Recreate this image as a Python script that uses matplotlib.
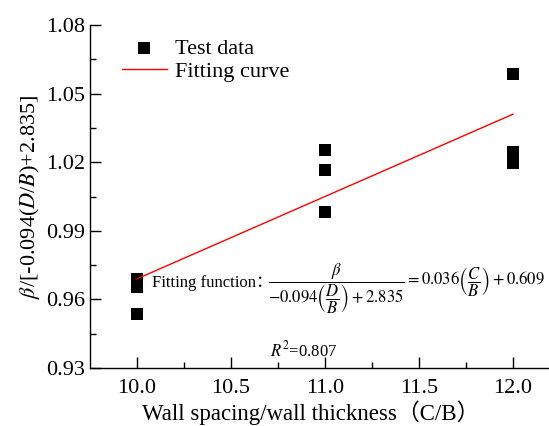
import matplotlib
matplotlib.use("Agg")
import matplotlib.pyplot as plt
import numpy as np

plt.rcParams['font.family'] = ['Liberation Serif', 'Noto Sans CJK SC']
plt.rcParams['mathtext.fontset'] = 'stix'

# Test data
ratio_cb = [10.0, 10.0, 10.0, 11.0, 11.0, 11.0, 12.0, 12.0, 12.0, 12.0]
beta_norm = [0.9691, 0.9656, 0.9538, 1.0253, 1.0168, 0.9984, 1.0586, 1.0244, 1.0220, 1.0196]

# Linear fit coefficients
slope = 0.036
intercept = 0.609
fit_x = [10.0, 12.0]

x_ticks = [10.0, 10.5, 11.0, 11.5, 12.0]
y_ticks = [0.93, 0.96, 0.99, 1.02, 1.05, 1.08]

W, H = 549, 426
fig = plt.figure(figsize=(W/100, H/100), dpi=100)
ax = fig.add_axes([90/W, 58/H, 470/W, 343/H])

ax.scatter(ratio_cb, beta_norm, marker='s', s=70, color='black', zorder=3,
           label='Test data', linewidths=0)
fx = np.array(fit_x)
ax.plot(fx, slope*fx + intercept, color='red', lw=1.0, label='Fitting curve', zorder=4)

ax.set_xlim(9.75, 12.25)
ax.set_ylim(0.93, 1.08)
ax.set_xticks(x_ticks)
ax.set_xticklabels([f"{v:.1f}" for v in x_ticks])
ax.set_yticks(y_ticks)
ax.set_yticklabels([f"{v:.2f}" for v in y_ticks])
ax.set_xticks(np.arange(10.25, 12.3, 0.5), minor=True)
ax.set_yticks(np.arange(0.945, 1.08, 0.03), minor=True)
ax.tick_params(which='both', direction='in', labelsize=16, width=1)
ax.tick_params(which='major', length=8)
ax.tick_params(which='minor', length=4)
ax.tick_params(axis='x', pad=8)
ax.spines['top'].set_visible(False)
ax.spines['right'].set_visible(False)
for s in ('left', 'bottom'):
    ax.spines[s].set_linewidth(1.0)

ax.set_xlabel('Wall spacing/wall thickness（C/B）', fontsize=16.5)
ax.xaxis.set_label_coords((311 - 90) / 470, -0.094)
ax.set_ylabel(r'$\mathit{\beta}$/[-0.094($\mathit{D}$/$\mathit{B}$)+2.835]', fontsize=16, labelpad=3)

leg = ax.legend(loc='upper left', bbox_to_anchor=(0.04, 1.0), frameon=False,
                fontsize=16, handlelength=2.0, handletextpad=0.4,
                labelspacing=0.1, borderaxespad=0.2)


def px(x, y):
    """Figure-fraction position from pixel coordinates measured from the top-left."""
    return x / W, 1 - y / H


fig.text(*px(152, 283), 'Fitting function：', fontsize=12, va='center', ha='left')
fig.text(*px(268, 289),
         r'$\dfrac{\beta}{-0.094\left(\dfrac{D}{B}\right)+2.835}=0.036\left(\dfrac{C}{B}\right)+0.609$',
         fontsize=12, va='center', ha='left')
fig.text(*px(270, 350), r'$R^2$=0.807', fontsize=12, va='center', ha='left')

fig.savefig('out.png', dpi=100)
